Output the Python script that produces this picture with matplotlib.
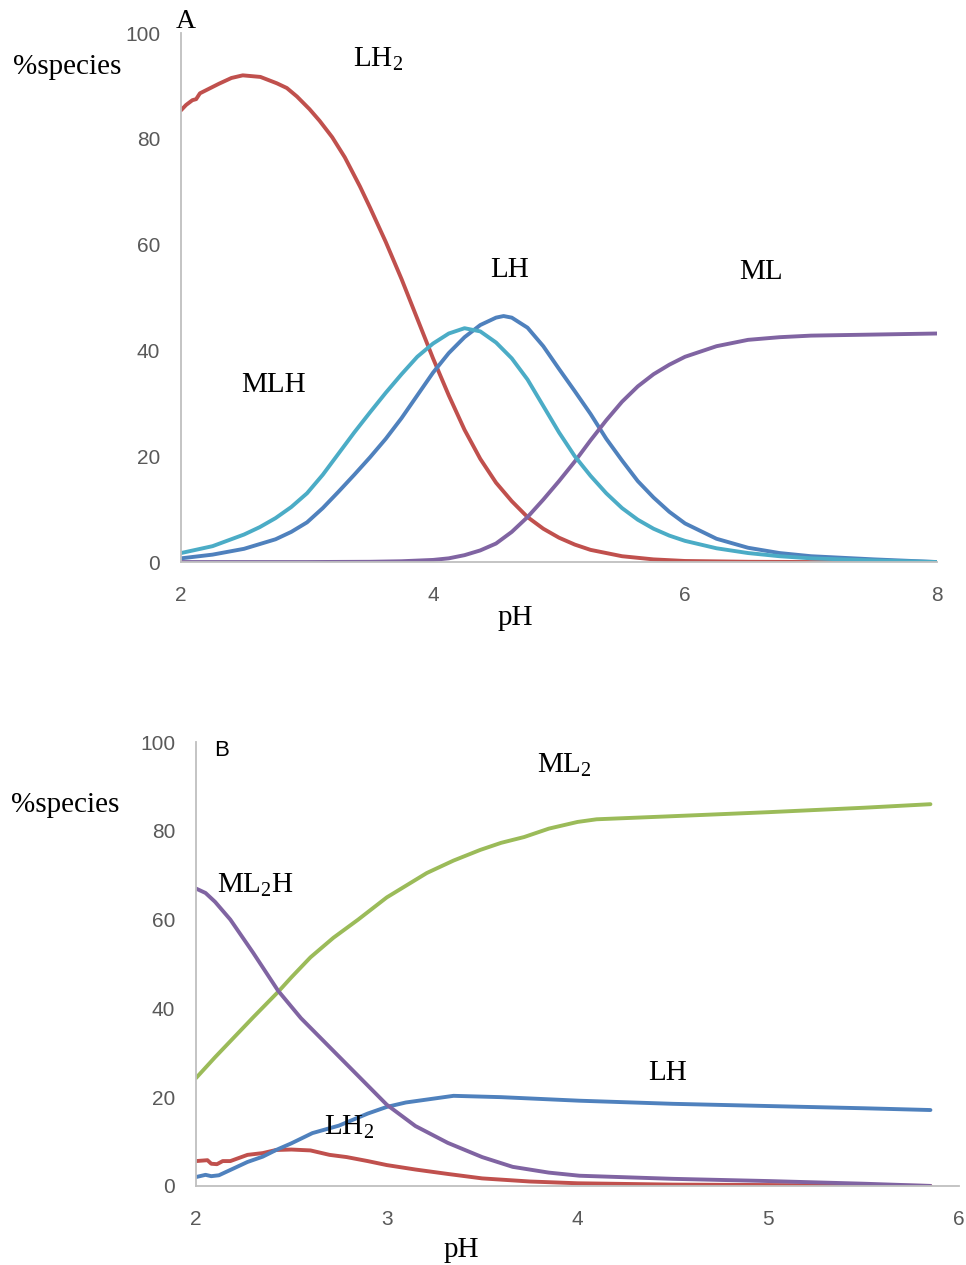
import matplotlib
matplotlib.use("Agg")
import matplotlib.pyplot as plt

plt.rcParams['mathtext.fontset'] = 'custom'
plt.rcParams['mathtext.rm'] = 'Liberation Serif'
plt.rcParams['mathtext.it'] = 'Liberation Serif:italic'

# ---- panel A data (pH vs % species) ----
ph_lh2_a = [2.0, 2.04, 2.09, 2.12, 2.15, 2.2, 2.3, 2.4, 2.49, 2.63, 2.76, 2.84, 2.92, 3.02,
            3.1, 3.2, 3.3, 3.42, 3.5, 3.625, 3.75, 3.875, 4.0, 4.125, 4.25, 4.375, 4.5,
            4.625, 4.75, 4.875, 5.0, 5.125, 5.25, 5.5, 5.75, 6.0, 6.5, 7.0, 8.0]
lh2_a = [85.4, 86.4, 87.3, 87.5, 88.6, 89.2, 90.4, 91.5, 92.0, 91.7, 90.5, 89.6, 88.0, 85.6,
         83.4, 80.3, 76.5, 71.0, 67.0, 60.5, 53.5, 46.0, 38.5, 31.5, 25.0, 19.5, 15.0,
         11.5, 8.5, 6.3, 4.6, 3.3, 2.3, 1.1, 0.5, 0.2, 0.05, 0.0, 0.0]

ph_mlh_a = [2.0, 2.25, 2.5, 2.625, 2.75, 2.875, 3.0, 3.125, 3.25, 3.375, 3.5, 3.625, 3.75,
            3.875, 4.0, 4.125, 4.25, 4.375, 4.5, 4.625, 4.75, 4.875, 5.0, 5.125, 5.25,
            5.375, 5.5, 5.625, 5.75, 5.875, 6.0, 6.25, 6.5, 6.75, 7.0, 7.5, 8.0]
mlh_a = [1.7, 3.0, 5.2, 6.6, 8.3, 10.4, 13.0, 16.5, 20.5, 24.5, 28.3, 32.0, 35.5,
         38.8, 41.3, 43.2, 44.2, 43.6, 41.5, 38.5, 34.5, 29.5, 24.5, 20.0, 16.3,
         13.0, 10.2, 8.0, 6.3, 5.0, 4.0, 2.6, 1.7, 1.1, 0.7, 0.3, 0.0]

ph_lh_a = [2.0, 2.25, 2.5, 2.75, 2.875, 3.0, 3.125, 3.25, 3.375, 3.5, 3.625, 3.75, 3.875,
           4.0, 4.125, 4.25, 4.375, 4.5, 4.56, 4.625, 4.75, 4.875, 5.0, 5.125, 5.25,
           5.375, 5.5, 5.625, 5.75, 5.875, 6.0, 6.25, 6.5, 6.75, 7.0, 7.5, 8.0]
lh_a = [0.7, 1.4, 2.5, 4.3, 5.7, 7.5, 10.2, 13.3, 16.5, 19.8, 23.3, 27.2, 31.5,
        35.8, 39.5, 42.5, 44.8, 46.2, 46.5, 46.2, 44.3, 40.8, 36.5, 32.3, 28.0,
        23.3, 19.2, 15.3, 12.2, 9.5, 7.3, 4.4, 2.7, 1.7, 1.1, 0.5, 0.0]

ph_ml_a = [2.0, 3.0, 3.5, 3.75, 4.0, 4.125, 4.25, 4.375, 4.5, 4.625, 4.75, 4.875, 5.0,
           5.125, 5.25, 5.375, 5.5, 5.625, 5.75, 5.875, 6.0, 6.25, 6.5, 6.75, 7.0, 7.5, 8.0]
ml_a = [0.0, 0.0, 0.05, 0.15, 0.4, 0.7, 1.3, 2.2, 3.5, 5.7, 8.5, 11.8, 15.3,
        19.0, 23.0, 26.8, 30.3, 33.2, 35.5, 37.3, 38.8, 40.8, 42.0, 42.5, 42.8, 43.0, 43.2]

# ---- panel B data ----
ph_ml2 = [2.0, 2.1, 2.2, 2.3, 2.43, 2.5, 2.6, 2.72, 2.85, 3.0, 3.21, 3.35, 3.49, 3.6,
          3.72, 3.85, 4.0, 4.1, 4.5, 5.0, 5.5, 5.85]
ml2_b = [24.3, 29.0, 33.5, 38.0, 43.7, 47.0, 51.5, 55.9, 60.0, 65.0, 70.5, 73.3, 75.7,
         77.3, 78.6, 80.5, 82.0, 82.6, 83.3, 84.2, 85.2, 86.0]

ph_ml2h = [2.0, 2.05, 2.1, 2.18, 2.3, 2.43, 2.55, 2.7, 2.85, 3.0, 3.15, 3.32, 3.5,
           3.66, 3.85, 4.01, 4.5, 5.0, 5.5, 5.85]
ml2h_b = [67.0, 66.0, 64.0, 60.0, 52.5, 44.0, 37.8, 31.3, 24.8, 18.3, 13.5, 9.7, 6.5,
          4.3, 3.0, 2.3, 1.6, 1.1, 0.5, 0.0]

ph_lh_b = [2.0, 2.05, 2.08, 2.12, 2.16, 2.27, 2.35, 2.42, 2.5, 2.61, 2.75, 2.9, 3.0,
           3.1, 3.2, 3.35, 3.6, 4.01, 4.5, 5.0, 5.5, 5.85]
lh_b = [2.0, 2.5, 2.2, 2.4, 3.2, 5.4, 6.6, 8.1, 9.6, 11.9, 13.6, 16.3, 17.8,
        18.8, 19.4, 20.3, 20.0, 19.2, 18.5, 18.0, 17.5, 17.1]

ph_lh2_b = [2.0, 2.06, 2.08, 2.11, 2.14, 2.18, 2.27, 2.35, 2.42, 2.5, 2.6, 2.7, 2.79,
            2.9, 3.0, 3.15, 3.32, 3.5, 3.75, 4.0, 4.5, 5.0, 5.85]
lh2_b = [5.6, 5.8, 5.0, 4.9, 5.6, 5.6, 7.0, 7.4, 8.1, 8.2, 8.0, 7.0, 6.5,
         5.6, 4.7, 3.7, 2.7, 1.7, 1.0, 0.6, 0.3, 0.2, 0.0]

red = '#C0504D'
blue = '#4F81BD'
cyan = '#4BACC6'
purple = '#8064A2'
green = '#9BBB59'

serif = 'Liberation Serif'
sans = 'Liberation Sans'
lw = 2.8

fig = plt.figure(figsize=(9.66, 12.65), dpi=100)
axA = fig.add_axes([0.1874, 0.5557, 0.7826, 0.4182])
axB = fig.add_axes([0.2029, 0.0625, 0.7899, 0.3509])


def style(ax, xticks):
    for s in ['top', 'right']:
        ax.spines[s].set_visible(False)
    for s in ['left', 'bottom']:
        ax.spines[s].set_color('#BFBFBF')
        ax.spines[s].set_linewidth(1.3)
    ax.set_ylim(0, 100)
    ax.set_yticks([0, 20, 40, 60, 80, 100])
    ax.set_xticks(xticks)
    ax.tick_params(length=0, labelsize=15, labelcolor='#595959')
    ax.tick_params(axis='x', pad=17)
    ax.tick_params(axis='y', pad=15)
    for t in ax.get_xticklabels() + ax.get_yticklabels():
        t.set_family(sans)


# panel A
axA.plot(ph_lh2_a, lh2_a, color=red, lw=lw, solid_capstyle='round')
axA.plot(ph_lh_a, lh_a, color=blue, lw=lw, solid_capstyle='round')
axA.plot(ph_ml_a, ml_a, color=purple, lw=lw, solid_capstyle='round')
axA.plot(ph_mlh_a, mlh_a, color=cyan, lw=lw, solid_capstyle='round')
axA.set_xlim(2, 8)
style(axA, [2, 4, 6, 8])

kw = dict(family=serif, fontsize=21, color='black', ha='center', va='center', clip_on=False)
axA.text(2.035, 102.2, 'A', family=serif, fontsize=20, ha='center', va='center', clip_on=False)
axA.text(1.095, 93.6, '%species', **kw)
axA.text(3.56, 95, r'LH$_\mathrm{2}$', **kw)
axA.text(4.61, 55.2, 'LH', **kw)
axA.text(6.6, 54.8, 'ML', **kw)
axA.text(2.73, 33.5, 'MLH', **kw)
axA.text(4.65, -10.6, 'pH', **kw)

# panel B
axB.plot(ph_lh2_b, lh2_b, color=red, lw=lw, solid_capstyle='round')
axB.plot(ph_lh_b, lh_b, color=blue, lw=lw, solid_capstyle='round')
axB.plot(ph_ml2, ml2_b, color=green, lw=lw, solid_capstyle='round')
axB.plot(ph_ml2h, ml2h_b, color=purple, lw=lw, solid_capstyle='round')
axB.set_xlim(2, 6)
style(axB, [2, 3, 4, 5, 6])

axB.text(2.136, 98.2, 'B', family=sans, fontsize=16, ha='center', va='center', clip_on=False)
axB.text(1.313, 85.8, '%species', **kw)
axB.text(3.93, 94.8, r'ML$_\mathrm{2}$', **kw)
axB.text(2.31, 67.8, r'ML$_\mathrm{2}$H', **kw)
axB.text(4.47, 25.5, 'LH', **kw)
axB.text(2.8, 13.3, r'LH$_\mathrm{2}$', **kw)
axB.text(3.39, -14.4, 'pH', **kw)

fig.savefig('out.png', dpi=100)
